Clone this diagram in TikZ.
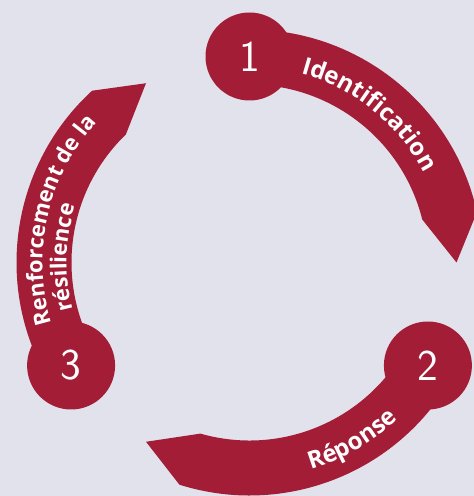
\documentclass[tikz,border=0pt]{standalone}
\usepackage{fontspec}
\usetikzlibrary{decorations.text}

\newfontfamily\labelfont{Open Sans}
\definecolor{crimson}{HTML}{A31D37}
\definecolor{paper}{HTML}{E1E2EB}

\tikzset{
	band/.style={fill=crimson},
	stepdot/.style={circle, fill=crimson, minimum size=88pt, inner sep=0pt,
		text=white, font=\sffamily\fontsize{44}{44}\selectfont},
}

\begin{document}
\begin{tikzpicture}[x=1pt,y=1pt]

\useasboundingbox (0,0) rectangle (474,496);
\fill[paper] (0,0) rectangle (474,496);

\begin{scope}[shift={(249.5,233.5)}]

% STEP 1
\fill[band] (90:178) arc[start angle=90, end angle=14, radius=178] -- (0:207)
	-- (12.5:233) arc[start angle=12.5, end angle=90, radius=233] -- cycle;
\node[stepdot] (s1) at (90:206) {1};
\path[decorate, decoration={text along path, text align=center,
	text={|\labelfont\bfseries\fontsize{24}{24}\selectfont\color{white}|Identification}}]
	(80:196) arc[start angle=80, end angle=22, radius=196];

% STEP 2
\fill[band] (330:178) arc[start angle=330, end angle=254, radius=178] -- (240:207)
	-- (252.5:233) arc[start angle=252.5, end angle=330, radius=233] -- cycle;
\node[stepdot] (s2) at (330:206) {2};
\path[decorate, decoration={text along path, text align=center,
	text={|\labelfont\bfseries\fontsize{24}{24}\selectfont\color{white}|Réponse}}]
	(270:216) arc[start angle=270, end angle=330, radius=216];

% STEP 3
\fill[band] (210:178) arc[start angle=210, end angle=134, radius=178] -- (120:207)
	-- (132.5:233) arc[start angle=132.5, end angle=210, radius=233] -- cycle;
\node[stepdot] (s3) at (210:206) {3};
\path[decorate, decoration={text along path, text align=left,
	text={|\labelfont\bfseries\fontsize{22}{22}\selectfont\color{white}|Renforcement de la}}]
	(197:207) arc[start angle=197, end angle=120, radius=207];
\path[decorate, decoration={text along path, text align=left,
	text={|\labelfont\bfseries\fontsize{22}{22}\selectfont\color{white}|résilience}}]
	(195:183) arc[start angle=195, end angle=130, radius=183];

\end{scope}

\end{tikzpicture}
\end{document}
